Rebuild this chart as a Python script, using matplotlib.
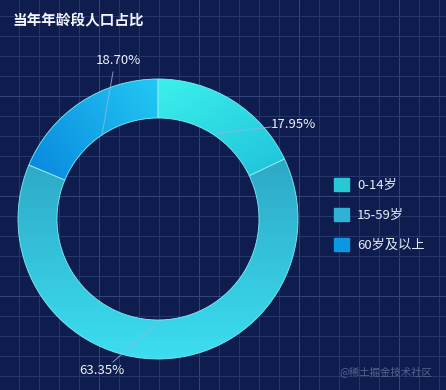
import numpy as np
import matplotlib.pyplot as plt
from matplotlib.patches import Patch
from matplotlib.colors import LinearSegmentedColormap

plt.rcParams['font.family'] = ['Noto Sans CJK SC', 'DejaVu Sans']

title = '当年年龄段人口占比'
groups = ['0-14岁', '15-59岁', '60岁及以上']
shares = [17.95, 63.35, 18.70]
pct_labels = ['17.95%', '63.35%', '18.70%']

legend_colors = ['#27c9d6', '#2fb2d4', '#0c97e2']
# (dark, bright) colour and the direction (deg) the gradient brightens towards
grad_colors = [('#22c6dc', '#3cf0ec', 120), ('#2ea8c6', '#3cdef0', -90), ('#0a8ade', '#22c8f4', 35)]

W, H = 446, 390
bg = '#0f1d4e'
cx, cy = 158, H - 219
R, r = 140, 101

fig = plt.figure(figsize=(W / 100, H / 100), dpi=100, facecolor=bg)
ax = fig.add_axes([0, 0, 1, 1])
ax.set_facecolor(bg)

# background grid
for k, x in enumerate(np.arange(18, W, 20)):
    ax.axvline(x + 0.5, color='#25366c' if k % 5 != 4 else '#33447c', lw=0.75, zorder=0)
for k, y in enumerate(np.arange(15, H, 20)):
    ax.axhline(H - y - 0.5, color='#25366c' if k % 5 != 4 else '#33447c', lw=0.75, zorder=0)

wedges, _ = ax.pie(shares, center=(cx, cy), radius=R, startangle=90, counterclock=False,
                   wedgeprops=dict(width=R - r, edgecolor='#7eeef6', linewidth=0.6),
                   frame=True)

yy, xx = np.mgrid[cy - R:cy + R:300j, cx - R:cx + R:300j]
for w, (c0, c1, ang) in zip(wedges, grad_colors):
    w.set_facecolor('none')
    w.set_zorder(3)
    d = np.array([np.cos(np.radians(ang)), np.sin(np.radians(ang))])
    v = w.get_path().vertices
    p = v @ d
    t = ((xx * d[0] + yy * d[1]) - p.min()) / (p.max() - p.min())
    cmap = LinearSegmentedColormap.from_list('g', [c0, c1])
    im = ax.imshow(np.clip(t, 0, 1), cmap=cmap, vmin=0, vmax=1, origin='lower',
                   extent=[cx - R, cx + R, cy - R, cy + R], zorder=2, interpolation='bilinear')
    im.set_clip_path(w)

# labels with leader lines from inner ring at the mid angle
label_pos = [(271, 125, 'left'), (102, 371, 'center'), (118, 60, 'center')]
line_end = [(271, 127), (113, 362), (113, 72)]
start = 90.0
for s, lab, (lx, ly, ha), (ex, ey) in zip(shares, pct_labels, label_pos, line_end):
    mid = np.radians(start - s * 3.6 / 2)
    start -= s * 3.6
    sx, sy = cx + r * np.cos(mid), cy + r * np.sin(mid)
    ax.plot([sx, ex], [sy, H - ey], color='#8fb8e0', lw=0.7, alpha=0.8, zorder=4)
    ax.text(lx, H - ly, lab, color='#eef3fa', fontsize=9.5, ha=ha, va='center', zorder=5)

ax.text(12, H - 20, title, color='#f2f5fb', fontsize=10.5, fontweight='bold', ha='left', va='center')
ax.text(432, H - 372, '@稀土掘金技术社区', color='#56638f', fontsize=7.5, ha='right', va='center')

handles = [Patch(facecolor=c, edgecolor=c) for c in legend_colors]
leg = ax.legend(handles, groups, loc='upper left', bbox_to_anchor=(334 / W, 1 - 178 / H),
                frameon=False, fontsize=9.5, labelcolor='#e6ecf5', handlelength=1.15, handleheight=1.15,
                handletextpad=0.6, labelspacing=1.22, borderpad=0, borderaxespad=0)

ax.set_xlim(0, W)
ax.set_ylim(0, H)
ax.set_aspect('equal')
ax.axis('off')
fig.savefig('out.png', dpi=100, facecolor=bg)
